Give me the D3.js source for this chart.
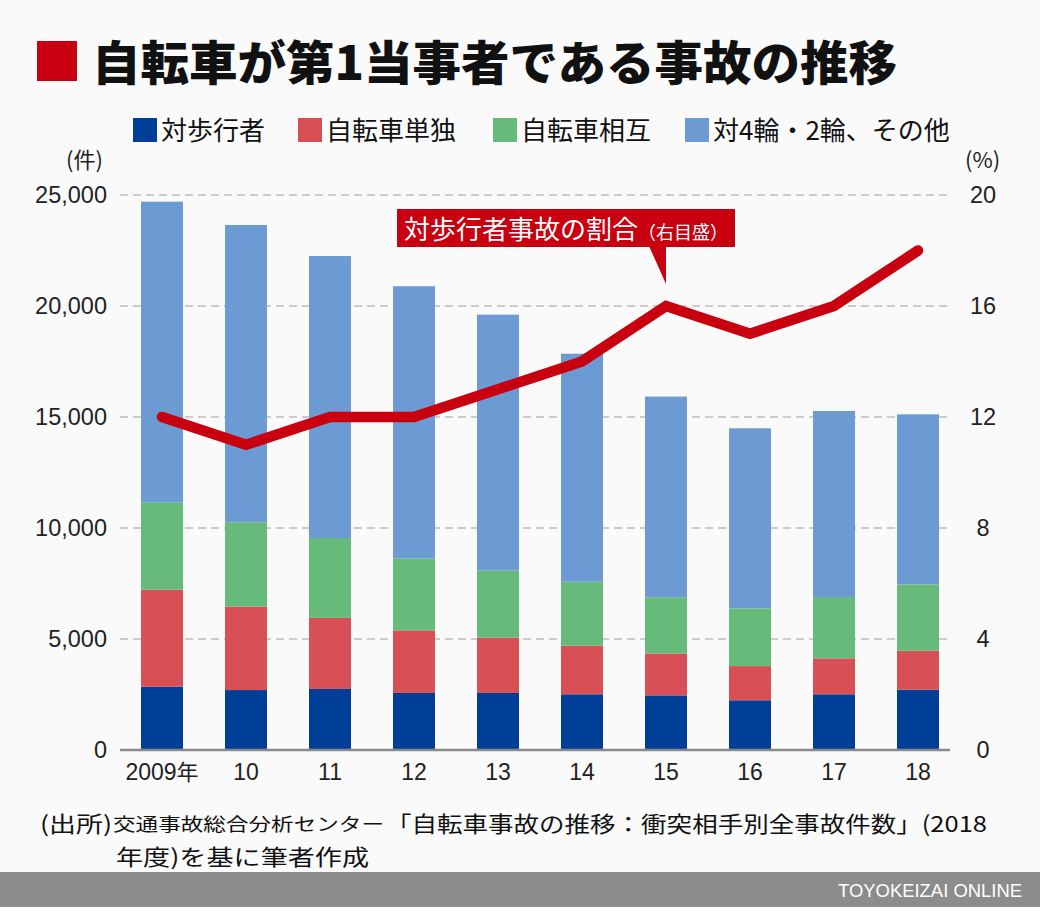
<!DOCTYPE html>
<html>
<head>
<meta charset="utf-8">
<script src="https://cdn.jsdelivr.net/npm/d3@7"></script>
<style>
  body { margin: 0; background: #fafafa; }
  svg { display: block; }
  .jp { font-family: "Noto Sans CJK JP", "Noto Sans", sans-serif; }
  .num { font-family: "Liberation Sans", Arial, sans-serif; }
</style>
</head>
<body>
<div id="chart"></div>
<script>
// data
var years = ["2009年", "10", "11", "12", "13", "14", "15", "16", "17", "18"];
var seriesNames = ["対歩行者", "自転車単独", "自転車相互", "対4輪・2輪、その他"];
var pedestrian = [2850, 2700, 2750, 2570, 2570, 2510, 2460, 2240, 2510, 2720];
var single     = [4370, 3760, 3200, 2820, 2490, 2190, 1890, 1540, 1620, 1750];
var mutual     = [3940, 3800, 3600, 3240, 3030, 2880, 2530, 2600, 2760, 2990];
var others     = [13540, 13390, 12700, 12260, 11520, 10270, 9040, 8110, 8380, 7660];
var pedShare   = [12, 11, 12, 12, 13, 14, 16, 15, 16, 18];
var leftTicks  = [0, 5000, 10000, 15000, 20000, 25000];
var rightTicks = [0, 4, 8, 12, 16, 20];

var colors = ["#003f98", "#d94f56", "#66bb7a", "#6b9bd2"];
var lineColor = "#c8000f";

var W = 1040, H = 914;
var margin = { top: 195, right: 85, bottom: 164, left: 120 };
var width = W - margin.left - margin.right,
    height = H - margin.top - margin.bottom;

var svg = d3.select("#chart").append("svg")
  .attr("width", W)
  .attr("height", H);

svg.append("rect").attr("width", W).attr("height", H).attr("fill", "#fafafa");

// title
svg.append("rect").attr("x", 37).attr("y", 41).attr("width", 40).attr("height", 40).attr("fill", lineColor);
svg.append("text").attr("class", "jp")
  .attr("x", 92).attr("y", 80)
  .attr("font-size", 47).attr("font-weight", 900)
  .attr("textLength", 805).attr("lengthAdjust", "spacingAndGlyphs")
  .attr("fill", "#111")
  .text("自転車が第1当事者である事故の推移");

// legend
var legendX = [133, 298, 493, 685];
var legend = svg.append("g");
seriesNames.forEach(function(name, i) {
  legend.append("rect")
    .attr("x", legendX[i]).attr("y", 118)
    .attr("width", 24).attr("height", 24)
    .attr("fill", colors[i]);
  legend.append("text").attr("class", "jp")
    .attr("x", legendX[i] + 28).attr("y", 140)
    .attr("font-size", 26).attr("fill", "#111")
    .text(name);
});

// unit labels
svg.append("text").attr("class", "jp").attr("x", 66).attr("y", 168)
  .attr("font-size", 22).attr("fill", "#222").text("(件)");
svg.append("text").attr("class", "jp").attr("x", 965).attr("y", 168)
  .attr("font-size", 22).attr("fill", "#222").text("(%)");

var g = svg.append("g").attr("transform", "translate(" + margin.left + "," + margin.top + ")");

var x = d3.scaleBand().domain(years).range([0, width + 5]).paddingInner(0.5).paddingOuter(0.25);
var y = d3.scaleLinear().domain([0, 25000]).range([height, 0]);
var yR = d3.scaleLinear().domain([0, 20]).range([height, 0]);

// gridlines
g.append("g")
  .selectAll("line")
  .data(leftTicks.filter(function(d) { return d > 0; }))
  .enter().append("line")
  .attr("x1", 0).attr("x2", width - 5)
  .attr("y1", function(d) { return y(d); })
  .attr("y2", function(d) { return y(d); })
  .attr("stroke", "#bdbdbd")
  .attr("stroke-width", 1.5)
  .attr("stroke-dasharray", "8,5");

// left axis
var leftAxis = g.append("g")
  .call(d3.axisLeft(y).tickValues(leftTicks).tickFormat(d3.format(",")).tickSize(0).tickPadding(13));
leftAxis.select(".domain").remove();
leftAxis.selectAll("text").attr("class", "num").attr("font-size", 23.5).attr("fill", "#222");

// right axis
var rightAxis = g.append("g")
  .attr("transform", "translate(" + (width + 13) + ",0)")
  .call(d3.axisRight(yR).tickValues(rightTicks).tickSize(0).tickPadding(0));
rightAxis.select(".domain").remove();
rightAxis.selectAll("text").attr("class", "num").attr("font-size", 23.5).attr("fill", "#222")
  .attr("text-anchor", "middle").attr("x", 15);

// stacked bars
var rows = years.map(function(yr, i) {
  return { year: yr, a: pedestrian[i], b: single[i], c: mutual[i], d: others[i] };
});
var stack = d3.stack().keys(["a", "b", "c", "d"])(rows);

g.append("g")
  .selectAll("g")
  .data(stack)
  .enter().append("g")
  .attr("fill", function(d, i) { return colors[i]; })
  .selectAll("rect")
  .data(function(d) { return d; })
  .enter().append("rect")
  .attr("x", function(d) { return x(d.data.year); })
  .attr("width", x.bandwidth())
  .attr("y", function(d) { return y(d[1]); })
  .attr("height", function(d) { return y(d[0]) - y(d[1]); });

// baseline
g.append("line")
  .attr("x1", 0).attr("x2", width - 5)
  .attr("y1", height).attr("y2", height)
  .attr("stroke", "#8a8a8a").attr("stroke-width", 2.5);

// x axis labels
var xAxis = g.append("g")
  .attr("transform", "translate(0," + height + ")")
  .call(d3.axisBottom(x).tickSize(0).tickPadding(14));
xAxis.select(".domain").remove();
xAxis.selectAll("text").attr("class", "num").attr("font-size", 23).attr("fill", "#222")
  .filter(function(d) { return d === "2009年"; })
  .text(null)
  .call(function(t) {
    t.append("tspan").attr("class", "num").text("2009");
    t.append("tspan").attr("class", "jp").attr("font-size", 22).text("年");
  });

// share line
var line = d3.line()
  .x(function(d, i) { return x(years[i]) + x.bandwidth() / 2; })
  .y(function(d) { return yR(d); });

g.append("path")
  .attr("d", line(pedShare))
  .attr("fill", "none")
  .attr("stroke", lineColor)
  .attr("stroke-width", 10.5)
  .attr("stroke-linecap", "round")
  .attr("stroke-linejoin", "miter");

// callout
var tipX = margin.left + x("15") + x.bandwidth() / 2;
var tipY = margin.top + yR(16) - 22;
svg.append("rect")
  .attr("x", 397).attr("y", 209).attr("width", 338).attr("height", 38)
  .attr("fill", lineColor);
svg.append("path")
  .attr("d", "M" + (tipX - 17) + ",246 L" + tipX + ",246 L" + tipX + "," + tipY + "Z")
  .attr("fill", lineColor);
var callText = svg.append("text").attr("class", "jp")
  .attr("x", 404).attr("y", 239).attr("fill", "#fff");
callText.append("tspan").attr("font-size", 26).text("対歩行者事故の割合");
callText.append("tspan").attr("font-size", 18).text("（右目盛）");

// source note
function note(xp, yp, size, len, str) {
  svg.append("text").attr("class", "jp")
    .attr("x", xp).attr("y", yp)
    .attr("font-size", size).attr("fill", "#111")
    .attr("textLength", len).attr("lengthAdjust", "spacingAndGlyphs")
    .text(str);
}
note(40, 832, 22, 72, "(出所)");
note(113, 831, 18, 271, "交通事故総合分析センター");
note(386, 832, 22, 601, "「自転車事故の推移：衝突相手別全事故件数」(2018");
note(116, 865, 22, 253, "年度)を基に筆者作成");

// footer band
svg.append("rect").attr("x", 0).attr("y", 872).attr("width", W).attr("height", 35).attr("fill", "#8c8c8c");
svg.append("rect").attr("x", 0).attr("y", 907).attr("width", W).attr("height", 7).attr("fill", "#fff");
svg.append("text").attr("class", "num")
  .attr("x", 838).attr("y", 897)
  .attr("font-size", 18).attr("fill", "#fff")
  .attr("textLength", 184).attr("lengthAdjust", "spacingAndGlyphs")
  .text("TOYOKEIZAI ONLINE");
</script>
</body>
</html>
